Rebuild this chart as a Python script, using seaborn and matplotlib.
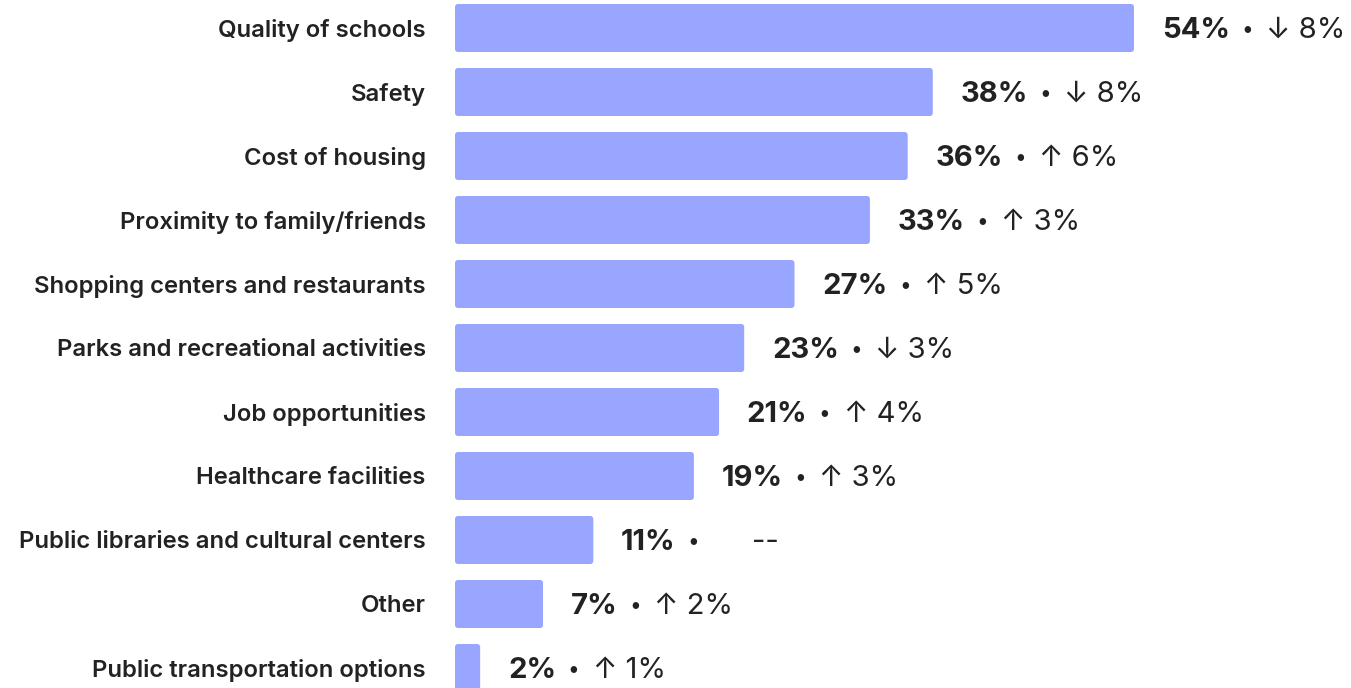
import matplotlib
matplotlib.use("Agg")
import matplotlib.pyplot as plt
from matplotlib.patches import FancyBboxPatch
import seaborn as sns

categories = [
    "Quality of schools",
    "Safety",
    "Cost of housing",
    "Proximity to family/friends",
    "Shopping centers and restaurants",
    "Parks and recreational activities",
    "Job opportunities",
    "Healthcare facilities",
    "Public libraries and cultural centers",
    "Other",
    "Public transportation options",
]
shares = [54, 38, 36, 33, 27, 23, 21, 19, 11, 7, 2]
changes = ["↓ 8%", "↓ 8%", "↑ 6%", "↑ 3%", "↑ 5%", "↓ 3%", "↑ 4%", "↑ 3%", "--", "↑ 2%", "↑ 1%"]

bar_color = "#98A6FF"
text_color = "#222222"

sns.set_style("white")
plt.rcParams["font.family"] = ["Inter", "DejaVu Sans"]

fig = plt.figure(figsize=(13.51, 6.88), dpi=100)
ax = fig.add_axes([455 / 1351, 0, 896 / 1351, 1])

sns.barplot(x=shares, y=categories, color=bar_color, width=0.75, saturation=1, ax=ax)

px_x = 1 / 12.574   # data units per pixel along x
px_y = 1 / 64       # data units per pixel along y
ax.set_xlim(0, 896 * px_x)
ax.set_ylim(10.3125, -0.4375)

# swap plain rectangles for slightly rounded ones
for p in list(ax.patches):
    x0, y0 = p.get_x(), p.get_y()
    w, h = p.get_width(), p.get_height()
    r = FancyBboxPatch((x0, y0), w, h,
                       boxstyle=f"round,pad=0,rounding_size={3 * px_x}",
                       mutation_aspect=px_y / px_x,
                       facecolor=bar_color, edgecolor="none")
    p.remove()
    ax.add_patch(r)

ax.tick_params(axis="y", length=0, pad=21)
for lbl in ax.get_yticklabels():
    lbl.set_fontsize(17.2)
    lbl.set_fontweight("semibold")
    lbl.set_color(text_color)
ax.set_xticks([])
ax.set_xlabel("")
ax.set_ylabel("")
sns.despine(ax=ax, left=True, bottom=True)

vsize = 21
for i, (v, ch) in enumerate(zip(shares, changes)):
    t1 = ax.annotate(f"{v}%", xy=(v, i), xytext=(20, -1.5), textcoords="offset points",
                     va="center", ha="left", fontsize=vsize, fontweight="bold", color=text_color)
    t2 = ax.annotate("•", xy=(1, 0.5), xycoords=t1, xytext=(8.2, 0), textcoords="offset points",
                     va="center", ha="left", fontsize=15, color=text_color)
    gap = 38.5 if ch == "--" else 9.6
    ax.annotate(ch, xy=(1, 0.5), xycoords=t2, xytext=(gap, 0), textcoords="offset points",
                va="center", ha="left", fontsize=vsize, color=text_color)

fig.savefig("out.png", dpi=100)
